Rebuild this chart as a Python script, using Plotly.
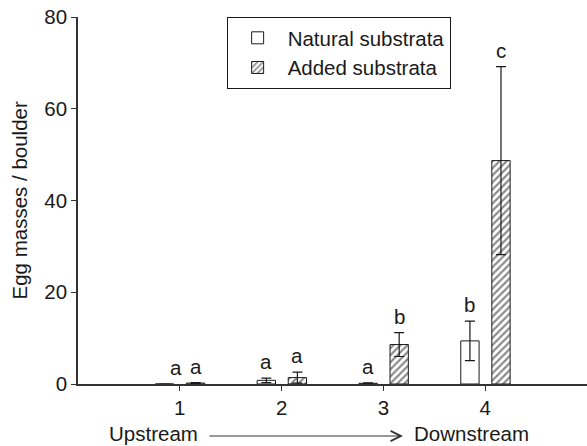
import plotly.graph_objects as go

categories = [1, 2, 3, 4]
natural = [0.0, 0.8, 0.15, 9.4]
natural_err = [0.0, 0.5, 0.1, 4.3]
added = [0.2, 1.4, 8.6, 48.7]
added_err = [0.1, 1.2, 2.6, 20.5]
natural_letters = ["a", "a", "a", "b"]
added_letters = ["a", "a", "b", "c"]
tick_labels = ["1", "2", "3", "4"]

FONT = "Liberation Sans, Arial, Helvetica, sans-serif"
INK = "#1a1a1a"
FS = 20.5

fig = go.Figure()
fig.add_trace(go.Bar(
    x=categories, y=natural, name="Natural substrata",
    width=0.18, offset=-0.24,
    marker=dict(color="white", line=dict(color=INK, width=1)),
    error_y=dict(type="data", array=natural_err, color=INK, thickness=1.2, width=5, visible=True),
))
fig.add_trace(go.Bar(
    x=categories, y=added, name="Added substrata",
    width=0.18, offset=0.065,
    marker=dict(color="white", line=dict(color=INK, width=1),
                pattern=dict(shape="/", fgcolor=INK, bgcolor="white", size=5, solidity=0.45)),
    error_y=dict(type="data", array=added_err, color=INK, thickness=1.2, width=5, visible=True),
))

# significance letters
for i, c in enumerate(categories):
    nx = c - 0.15 if natural[i] > 0 else c - 0.035
    fig.add_annotation(x=nx, y=natural[i] + natural_err[i], text=natural_letters[i],
                       xref="x", yref="y", showarrow=False, yanchor="bottom", yshift=3,
                       font=dict(family=FONT, size=FS, color=INK))
    fig.add_annotation(x=c + 0.155, y=added[i] + added_err[i], text=added_letters[i],
                       xref="x", yref="y", showarrow=False, yanchor="bottom", yshift=3,
                       font=dict(family=FONT, size=FS, color=INK))

# y-axis title
fig.add_annotation(x=-0.114, y=0.5, xref="paper", yref="paper", text="Egg masses / boulder",
                   textangle=-90, showarrow=False, xanchor="center", yanchor="middle",
                   font=dict(family=FONT, size=FS, color=INK))

# Upstream -> Downstream
ARROW_Y = -(433 - 384) / 367
fig.add_annotation(x=0.6385, y=-(436 - 384) / 367, xref="paper", yref="paper", ax=-195, ay=0,
                   axref="pixel", ayref="pixel", text="", showarrow=True,
                   arrowhead=5, arrowsize=2, arrowwidth=1, arrowcolor="#333")
fig.add_annotation(x=(153.5 - 78) / 509, y=ARROW_Y, xref="paper", yref="paper",
                   text="Upstream", showarrow=False, xanchor="center", yanchor="middle",
                   font=dict(family=FONT, size=FS, color=INK))
fig.add_annotation(x=(471.5 - 78) / 509, y=ARROW_Y, xref="paper", yref="paper",
                   text="Downstream", showarrow=False, xanchor="center", yanchor="middle",
                   font=dict(family=FONT, size=FS, color=INK))

fig.update_layout(
    width=587, height=446,
    margin=dict(l=78, r=0, t=17, b=62),
    paper_bgcolor="white", plot_bgcolor="white",
    font=dict(family=FONT, size=FS, color=INK),
    barmode="overlay",
    showlegend=True,
    legend=dict(x=0.292, y=1.0, xanchor="left", yanchor="top",
                bordercolor=INK, borderwidth=1, bgcolor="white",
                font=dict(family=FONT, size=FS, color=INK),
                tracegroupgap=0, itemwidth=50),
    xaxis=dict(range=[0, 5], tickvals=categories, ticktext=tick_labels,
               showgrid=False, zeroline=False, showline=True, linecolor="#333", linewidth=1.5,
               ticks="outside", ticklen=5, tickwidth=1.2, tickcolor="#333",
               tickfont=dict(family=FONT, size=FS, color=INK)),
    yaxis=dict(range=[0, 80], tickvals=[0, 20, 40, 60, 80],
               showgrid=False, zeroline=False, showline=True, linecolor="#333", linewidth=1.5,
               ticks="outside", ticklen=5, tickwidth=1.2, tickcolor="#333",
               tickfont=dict(family=FONT, size=FS, color=INK)),
)

fig.write_html("out.html")
